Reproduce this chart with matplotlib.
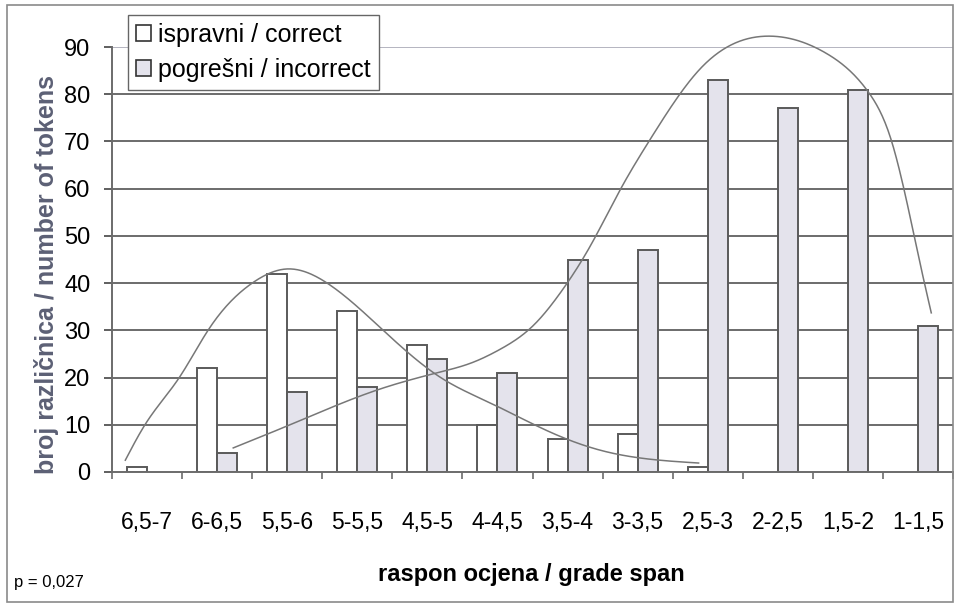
import numpy as np
import matplotlib
matplotlib.use("Agg")
import matplotlib.pyplot as plt
from matplotlib.patches import Rectangle

plt.rcParams['font.family'] = ['Liberation Sans', 'DejaVu Sans']

categories = ["6,5-7", "6-6,5", "5,5-6", "5-5,5", "4,5-5", "4-4,5",
              "3,5-4", "3-3,5", "2,5-3", "2-2,5", "1,5-2", "1-1,5"]
correct = [1, 22, 42, 34, 27, 10, 7, 8, 1, None, None, None]
incorrect = [None, 4, 17, 18, 24, 21, 45, 47, 83, 77, 81, 31]
series_labels = ["ispravni / correct", "pogrešni / incorrect"]
y_ticks = [0, 10, 20, 30, 40, 50, 60, 70, 80, 90]

# trend curves (x in category units, y in values)
trend_correct_x = [-0.31, -0.03, 0.46, 0.87, 1.5, 2.0, 2.57, 3.37, 4.19, 4.9, 5.76, 6.47, 7.87]
trend_correct_y = [2.5, 10, 20, 30, 40, 43, 40, 30, 20, 14.6, 8.4, 4.6, 1.9]
trend_incorrect_x = [1.23, 2.04, 3.29, 4.19, 4.61, 5.04, 5.51, 5.9, 6.33, 6.76, 7.19,
                     7.9, 8.86, 9.71, 10.3, 10.61, 11.07, 11.19]
trend_incorrect_y = [5.1, 10, 17.4, 21.2, 23, 26, 31, 38, 48, 60, 70.7,
                     85.5, 92.3, 88.5, 80.3, 70.7, 41.5, 33.7]

W, H = 957, 606
fig = plt.figure(figsize=(W / 100, H / 100), dpi=100)
fig.patch.set_facecolor('white')
L, R, T, B = 112, 953, 47, 472
ax = fig.add_axes([L / W, 1 - B / H, (R - L) / W, (B - T) / H])

grid_c = '#6b6b6b'
edge_c = '#5a5a5a'
gray_fill = '#e4e3ec'
trend_c = '#777777'

n = len(categories)
x = np.arange(n)
bw = 1 / 3.5

cx = [i for i, v in enumerate(correct) if v is not None]
cv = [v for v in correct if v is not None]
ix = [i for i, v in enumerate(incorrect) if v is not None]
iv = [v for v in incorrect if v is not None]

b1 = ax.bar(np.array(cx) - bw / 2, cv, width=bw, facecolor='white',
            edgecolor=edge_c, linewidth=1.4, zorder=3, label=series_labels[0])
b2 = ax.bar(np.array(ix) + bw / 2, iv, width=bw, facecolor=gray_fill,
            edgecolor=edge_c, linewidth=1.4, zorder=3, label=series_labels[1])


def smooth(xp, yp, num=500):
    """Natural cubic spline through the given points (for drawing only)."""
    xp = np.asarray(xp, float)
    yp = np.asarray(yp, float)
    m = len(xp)
    h = np.diff(xp)
    A = np.zeros((m, m))
    rhs = np.zeros(m)
    A[0, 0] = A[-1, -1] = 1
    for k in range(1, m - 1):
        A[k, k - 1] = h[k - 1]
        A[k, k] = 2 * (h[k - 1] + h[k])
        A[k, k + 1] = h[k]
        rhs[k] = 3 * ((yp[k + 1] - yp[k]) / h[k] - (yp[k] - yp[k - 1]) / h[k - 1])
    c = np.linalg.solve(A, rhs)
    b = (yp[1:] - yp[:-1]) / h - h * (2 * c[:-1] + c[1:]) / 3
    d = (c[1:] - c[:-1]) / (3 * h)
    xs = np.linspace(xp[0], xp[-1], num)
    idx = np.clip(np.searchsorted(xp, xs) - 1, 0, m - 2)
    t = xs - xp[idx]
    ys = yp[idx] + b[idx] * t + c[idx] * t ** 2 + d[idx] * t ** 3
    return xs, ys


xs, ys = smooth(trend_correct_x, trend_correct_y)
ax.plot(xs, ys, color=trend_c, lw=1.1, zorder=4, clip_on=False)
xs, ys = smooth(trend_incorrect_x, trend_incorrect_y)
ax.plot(xs, ys, color=trend_c, lw=1.1, zorder=4, clip_on=False)

ax.set_xlim(-0.5, n - 0.5)
ax.set_ylim(0, 90)

for yv in y_ticks[1:]:
    ax.axhline(yv, color=grid_c if yv < 90 else '#b4b4c0', lw=1.4, zorder=1)

for s in ['top', 'right']:
    ax.spines[s].set_visible(False)
for s in ['left', 'bottom']:
    ax.spines[s].set_color(grid_c)
    ax.spines[s].set_linewidth(1.4)
ax.spines['bottom'].set_zorder(5)

ax.set_yticks(y_ticks)
ax.tick_params(axis='y', direction='out', length=5.5, width=1.2, color='#444444',
               pad=10, labelsize=17)
ax.set_xticks(np.arange(n + 1) - 0.5)
ax.set_xticklabels([])
ax.tick_params(axis='x', which='major', direction='out', length=5, width=1.2,
               color=grid_c)
ax.set_xticks(x, minor=True)
ax.set_xticklabels(categories, minor=True)
ax.tick_params(axis='x', which='minor', length=0, pad=28, labelsize=16.5)

leg = ax.legend(handles=[b1, b2], loc='upper left',
                bbox_to_anchor=(128 / W, 1 - 15 / H), bbox_transform=fig.transFigure,
                fontsize=18, frameon=True, fancybox=False, framealpha=1,
                edgecolor='#666666', borderpad=0.32, labelspacing=0.42,
                handlelength=0.6, handleheight=0.6, handletextpad=0.3,
                borderaxespad=0)
leg.get_frame().set_linewidth(1.0)
leg.set_zorder(10)
for p in leg.legend_handles:
    p.set_linewidth(1.2)
    p.set_edgecolor('#333333')

fig.text(47 / W, 1 - 275 / H, "broj različnica / number of tokens", rotation=90,
         ha='center', va='center', fontsize=18, fontweight='bold', color='#5c6075')
fig.text(531 / W, 1 - 574 / H, "raspon ocjena / grade span", ha='center', va='center',
         fontsize=17, fontweight='bold', color='black')
fig.text(14 / W, 1 - 583 / H, "p = 0,027", ha='left', va='center', fontsize=12)

fig.patches.append(Rectangle((7 / W, 1 - 602 / H), (953 - 7) / W, (602 - 5) / H,
                             transform=fig.transFigure, fill=False,
                             edgecolor='#8a8a8a', lw=1.2, zorder=0))

fig.savefig('out.png', dpi=100)
